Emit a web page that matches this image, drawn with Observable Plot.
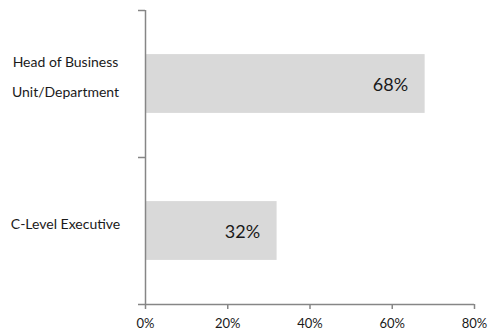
<!DOCTYPE html>
<html>
<head>
<meta charset="utf-8">
<script src="https://cdn.jsdelivr.net/npm/d3@7"></script>
<script src="https://cdn.jsdelivr.net/npm/@observablehq/plot@0.6"></script>
<style>
  html, body { margin: 0; padding: 0; background: #fff; }
  #chart svg { display: block; }
</style>
</head>
<body>
<div id="chart"></div>
<script>
const categories = ["Head of Business\nUnit/Department", "C-Level Executive"];
const values = [0.68, 0.32];
const xTicks = [0, 0.2, 0.4, 0.6, 0.8];

const data = categories.map((c, i) => ({ category: c, value: values[i], idx: i }));
const n = categories.length;
const axisColor = "#868686";
const font = "Lato, 'Open Sans', sans-serif";

const chart = Plot.plot({
  width: 489,
  height: 335,
  marginLeft: 145,
  marginRight: 15,
  marginTop: 10,
  marginBottom: 31,
  style: { fontFamily: font, background: "#fff" },
  x: { domain: [0, 0.8] },
  y: { domain: [0, n], reverse: true },
  marks: [
    Plot.rectX(data, {
      x1: 0,
      x2: "value",
      y1: d => d.idx + 0.3,
      y2: d => d.idx + 0.7,
      fill: "#d9d9d9"
    }),
    Plot.text(data, {
      x: "value",
      y: d => d.idx + 0.5,
      text: d => Math.round(d.value * 100) + "%",
      textAnchor: "end",
      dx: -17,
      dy: 1,
      fontSize: 18,
      fill: "#1a1a1a"
    }),
    Plot.text(data, {
      x: 0,
      y: d => d.idx + 0.5,
      text: "category",
      textAnchor: "middle",
      dx: -80,
      dy: -12,
      lineHeight: 2.15,
      fontSize: 14,
      fill: "#1a1a1a"
    }),
    Plot.ruleX([0], { y1: 0, y2: n, stroke: axisColor, strokeWidth: 1.5 }),
    Plot.ruleY([n], { stroke: axisColor, strokeWidth: 1.5 }),
    Plot.axisY({
      ticks: d3.range(n + 1),
      tickSize: 7,
      tickFormat: () => "",
      stroke: axisColor,
      strokeWidth: 1.5,
      label: null
    }),
    Plot.axisX({
      ticks: xTicks,
      tickSize: 5,
      tickPadding: 9,
      tickFormat: d => Math.round(d * 100) + "%",
      stroke: axisColor,
      strokeWidth: 1.5,
      fontSize: 13,
      fill: "#1a1a1a",
      label: null
    })
  ]
});
document.getElementById("chart").appendChild(chart);
</script>
</body>
</html>
